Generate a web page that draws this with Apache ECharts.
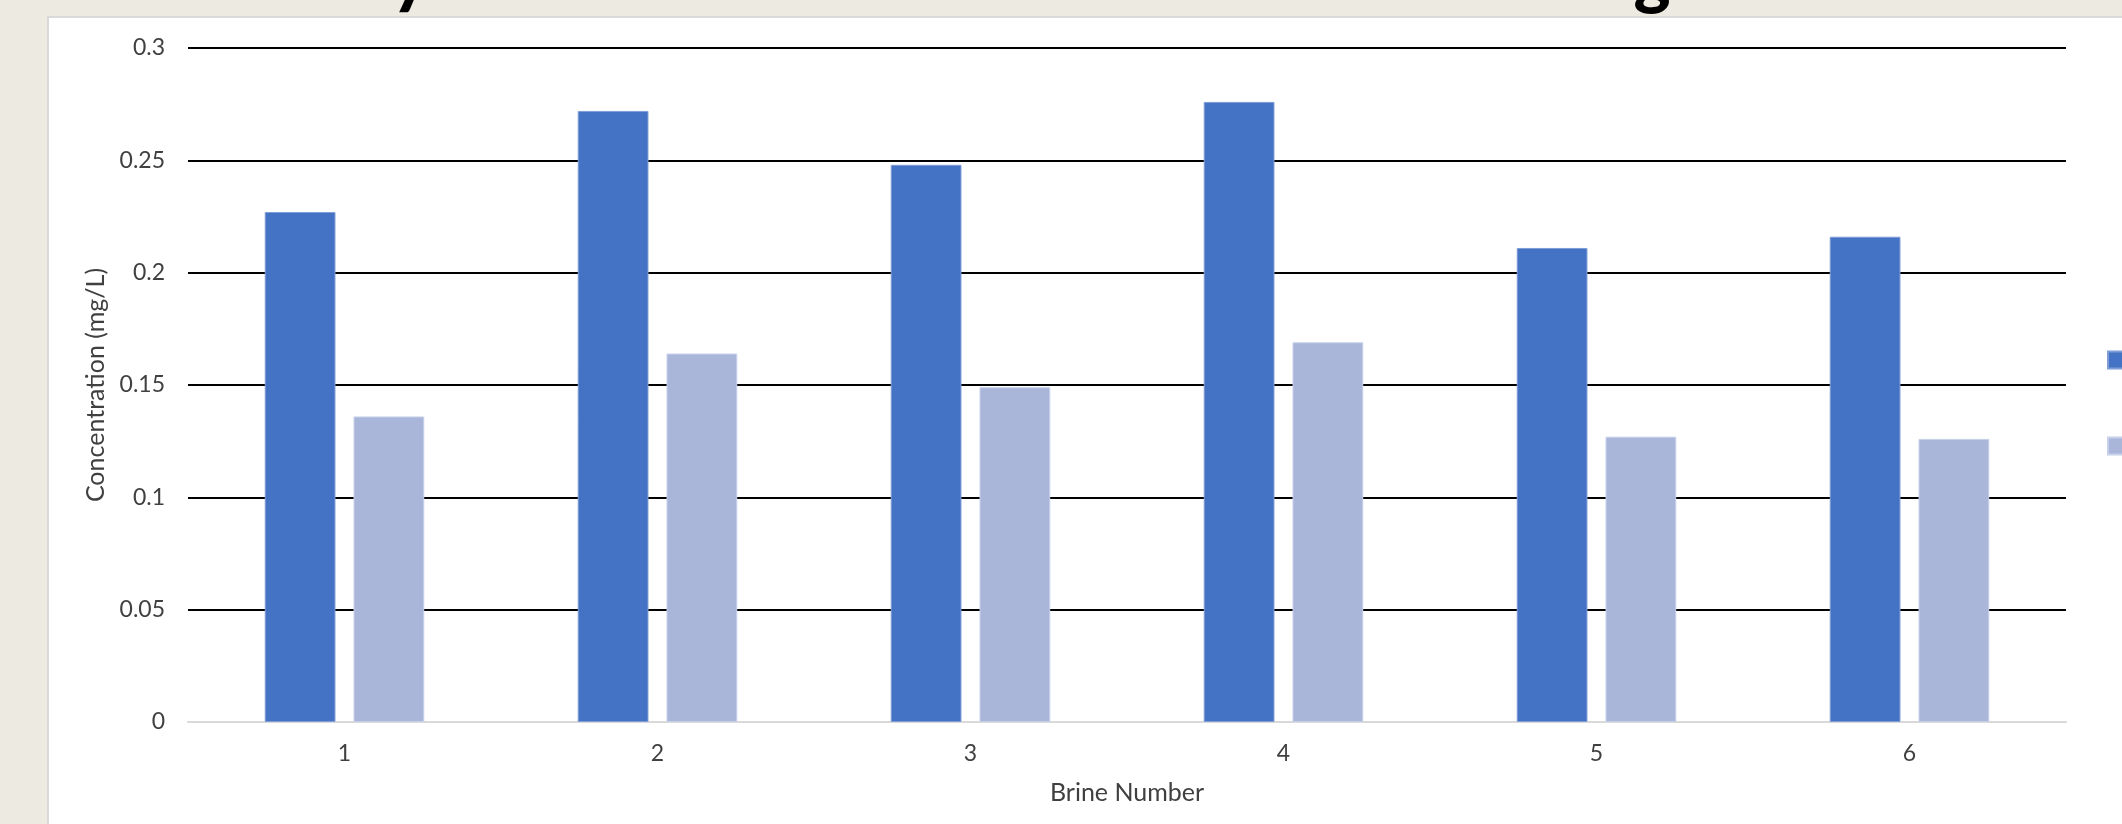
<!DOCTYPE html>
<html>
<head>
<meta charset="utf-8">
<script src="https://cdn.jsdelivr.net/npm/echarts@6/dist/echarts.min.js"></script>
<style>
  html, body { margin: 0; padding: 0; background: #edeae2; }
  #chart { width: 2122px; height: 824px; }
</style>
</head>
<body>
<div id="chart"></div>
<script>
// Brine samples on the category axis
const brineNumbers = ['1', '2', '3', '4', '5', '6'];

// Two measured concentration series (mg/L)
const seriesNames = ['Initial', 'Final'];
const initialValues = [0.227, 0.272, 0.248, 0.276, 0.211, 0.216];
const finalValues = [0.136, 0.164, 0.149, 0.169, 0.127, 0.126];

// Value-axis ticks
const yTickLabels = ['0', '0.05', '0.1', '0.15', '0.2', '0.25', '0.3'];
const yStep = 0.05;

const FONT = 'Lato, "Open Sans", sans-serif';
const TEXT = '#404040';

const chart = echarts.init(document.getElementById('chart'), null, { renderer: 'canvas' });

chart.setOption({
  backgroundColor: 'transparent',
  animation: false,
  textStyle: { fontFamily: FONT },
  graphic: [
    // white chart panel on the slide
    {
      type: 'rect', z: -10, silent: true,
      shape: { x: 48, y: 17, width: 2200, height: 900 },
      style: { fill: '#ffffff', stroke: '#d9d9d9', lineWidth: 2 }
    },
    // descenders of the slide heading, which sits above the visible area
    {
      type: 'text', z: -5, silent: true,
      style: { text: 'y', x: 410, y: 12, fill: '#000', font: '900 70px ' + FONT, align: 'center', verticalAlign: 'bottom' }
    },
    {
      type: 'text', z: -5, silent: true,
      style: { text: 'g', x: 1652, y: 13, fill: '#000', font: '900 70px ' + FONT, align: 'center', verticalAlign: 'bottom' }
    }
  ],
  legend: {
    orient: 'vertical',
    left: 2107,
    top: 348,
    padding: 0,
    itemWidth: 17,
    itemHeight: 17,
    itemGap: 62,
    icon: 'rect',
    data: seriesNames,
    textStyle: { fontSize: 24, color: TEXT, fontFamily: FONT }
  },
  grid: { left: 188, right: 56, top: 48, bottom: 102 },
  xAxis: {
    type: 'category',
    data: brineNumbers,
    name: 'Brine Number',
    nameLocation: 'middle',
    nameGap: 71,
    nameTextStyle: { fontSize: 25, color: TEXT, fontFamily: FONT, verticalAlign: 'middle' },
    axisLine: { show: true, lineStyle: { color: '#d9d9d9', width: 2 } },
    axisTick: { show: false },
    axisLabel: { fontSize: 23, color: TEXT, margin: 20, fontFamily: FONT }
  },
  yAxis: {
    type: 'value',
    min: 0,
    max: 0.3,
    interval: yStep,
    name: 'Concentration (mg/L)',
    nameLocation: 'middle',
    nameGap: 87,
    nameRotate: 90,
    nameTextStyle: { fontSize: 25, color: TEXT, fontFamily: FONT, verticalAlign: 'middle' },
    axisLine: { show: false },
    axisTick: { show: false },
    axisLabel: {
      fontSize: 23, color: TEXT, margin: 23, fontFamily: FONT,
      formatter: v => yTickLabels[Math.round(v / yStep)]
    },
    splitLine: { show: true, showMinLine: false, lineStyle: { color: '#000000', width: 2 } }
  },
  series: [
    {
      name: seriesNames[0],
      type: 'bar',
      data: initialValues,
      barWidth: '22.6%',
      barGap: '25.5%',
      itemStyle: { color: '#4472c4', borderColor: '#7f9dd6', borderWidth: 1 }
    },
    {
      name: seriesNames[1],
      type: 'bar',
      data: finalValues,
      barWidth: '22.6%',
      barGap: '25.5%',
      itemStyle: { color: '#a9b6da', borderColor: '#c6d0ea', borderWidth: 1 }
    }
  ]
});
</script>
</body>
</html>
